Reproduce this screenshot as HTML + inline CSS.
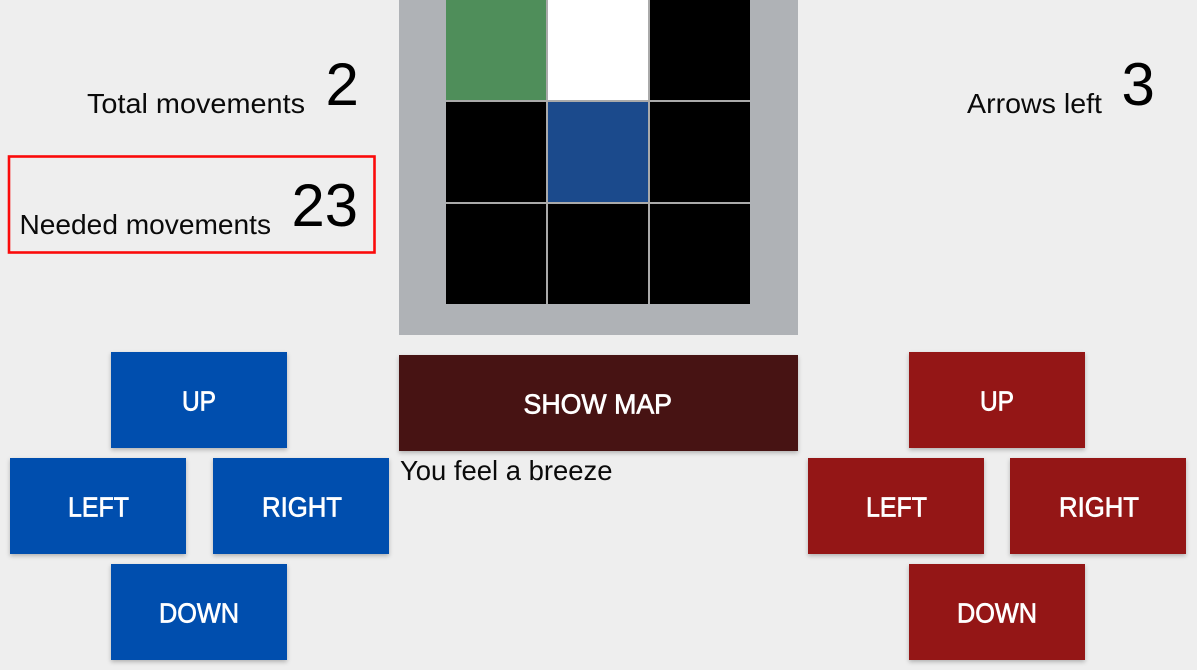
<!DOCTYPE html>
<html lang="en">
<head>
<meta charset="utf-8">
<title>Movement game</title>
<style>
  html, body { margin: 0; padding: 0; width: 1197px; height: 670px; overflow: hidden; background: #eeeeee; }
  svg { display: block; }
  text { font-family: "Liberation Sans", Arial, sans-serif; }
  .label { font-size: 28px; fill: #0a0a0a; }
  .count { font-size: 60px; fill: #000; }
  .btn-text { font-size: 27.5px; fill: #fff; stroke: #fff; stroke-width: .7px; }
  .btn { cursor: pointer; }
  .btn rect { filter: drop-shadow(0 2px 2px rgba(0,0,0,.25)); }
</style>
</head>
<body>
<svg width="1197" height="670" viewBox="0 0 1197 670" xmlns="http://www.w3.org/2000/svg">
  <rect width="1197" height="670" fill="#eeeeee"/>

  <g>
    <text class="label" x="87" y="113" textLength="218" lengthAdjust="spacingAndGlyphs">Total movements</text>
    <text class="count" x="325.5" y="105">2</text>
  </g>

  <g>
    <rect x="9" y="156.5" width="365.5" height="96" fill="none" stroke="#fb0a0a" stroke-width="2.6"/>
    <text class="label" x="19.5" y="234" textLength="251.5" lengthAdjust="spacingAndGlyphs">Needed movements</text>
    <text class="count" x="291.5" y="226" textLength="66.5" lengthAdjust="spacingAndGlyphs">23</text>
  </g>

  <g>
    <text class="label" x="967" y="113" textLength="135" lengthAdjust="spacingAndGlyphs">Arrows left</text>
    <text class="count" x="1121.5" y="105">3</text>
  </g>

  <g>
    <rect x="399" y="0" width="399" height="335" fill="#afb2b6"/>
    <rect x="446" y="0" width="304" height="304" fill="#aaaaaa"/>
    <rect x="446" y="0" width="100" height="100" fill="#4f8e5a"/>
    <rect x="548" y="0" width="100" height="100" fill="#ffffff"/>
    <rect x="650" y="0" width="100" height="100" fill="#000000"/>
    <rect x="446" y="102" width="100" height="100" fill="#000000"/>
    <rect x="548" y="102" width="100" height="100" fill="#1b4a8c"/>
    <rect x="650" y="102" width="100" height="100" fill="#000000"/>
    <rect x="446" y="204" width="100" height="100" fill="#000000"/>
    <rect x="548" y="204" width="100" height="100" fill="#000000"/>
    <rect x="650" y="204" width="100" height="100" fill="#000000"/>
  </g>

  <g class="btn">
    <rect x="399" y="355" width="399" height="96" fill="#471313"/>
    <text class="btn-text" x="523.5" y="413.5" textLength="148.5" lengthAdjust="spacingAndGlyphs">SHOW MAP</text>
  </g>
  <text class="label" x="400" y="480" textLength="212.5" lengthAdjust="spacingAndGlyphs">You feel a breeze</text>

  <g>
    <g class="btn">
      <rect x="111" y="352" width="176" height="96" fill="#004eae"/>
      <text class="btn-text" x="182" y="410.5" textLength="34" lengthAdjust="spacingAndGlyphs">UP</text>
    </g>
    <g class="btn">
      <rect x="10" y="458" width="176" height="96" fill="#004eae"/>
      <text class="btn-text" x="68" y="516.5" textLength="61" lengthAdjust="spacingAndGlyphs">LEFT</text>
    </g>
    <g class="btn">
      <rect x="213" y="458" width="176" height="96" fill="#004eae"/>
      <text class="btn-text" x="262" y="516.5" textLength="80" lengthAdjust="spacingAndGlyphs">RIGHT</text>
    </g>
    <g class="btn">
      <rect x="111" y="564" width="176" height="96" fill="#004eae"/>
      <text class="btn-text" x="159" y="622.5" textLength="80" lengthAdjust="spacingAndGlyphs">DOWN</text>
    </g>
  </g>

  <g>
    <g class="btn">
      <rect x="909" y="352" width="176" height="96" fill="#941616"/>
      <text class="btn-text" x="980" y="410.5" textLength="34" lengthAdjust="spacingAndGlyphs">UP</text>
    </g>
    <g class="btn">
      <rect x="808" y="458" width="176" height="96" fill="#941616"/>
      <text class="btn-text" x="866" y="516.5" textLength="61" lengthAdjust="spacingAndGlyphs">LEFT</text>
    </g>
    <g class="btn">
      <rect x="1010" y="458" width="176" height="96" fill="#941616"/>
      <text class="btn-text" x="1059" y="516.5" textLength="80" lengthAdjust="spacingAndGlyphs">RIGHT</text>
    </g>
    <g class="btn">
      <rect x="909" y="564" width="176" height="96" fill="#941616"/>
      <text class="btn-text" x="957" y="622.5" textLength="80" lengthAdjust="spacingAndGlyphs">DOWN</text>
    </g>
  </g>
</svg>
</body>
</html>
